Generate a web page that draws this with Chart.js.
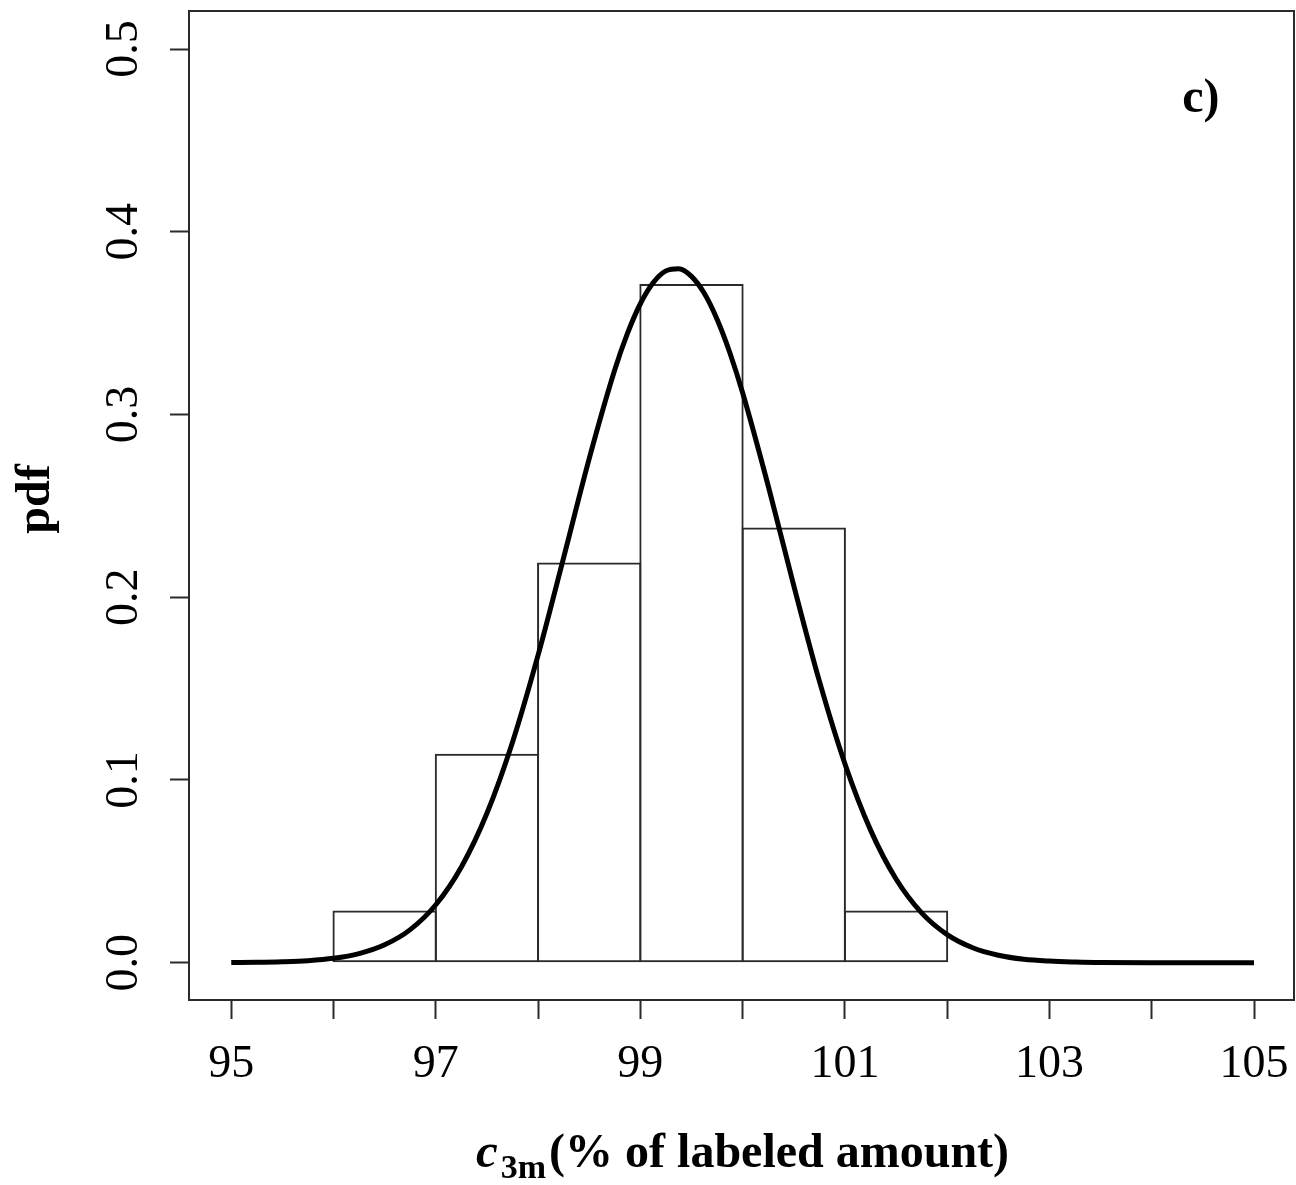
<!DOCTYPE html>
<html>
<head>
<meta charset="utf-8">
<script src="https://cdn.jsdelivr.net/npm/chart.js@4.4.1/dist/chart.umd.min.js"></script>
<style>
  html, body { margin: 0; padding: 0; background: #fff; }
  #wrap { width: 1296px; height: 1185px; }
</style>
</head>
<body>
<div id="wrap"><canvas id="chart" width="1296" height="1185"></canvas></div>
<script>
  // histogram, bins of width 1 (density)
  let binCenters = [96.5, 97.5, 98.5, 99.5, 100.5, 101.5];
  let binDensity = [0.0286, 0.1143, 0.2190, 0.3714, 0.2381, 0.0286];

  // fitted pdf curve
  let curveX = [95, 95.25, 95.5, 95.75, 96, 96.25, 96.5, 96.75, 97, 97.25, 97.5, 97.75,
    98, 98.25, 98.5, 98.75, 98.875, 99, 99.125, 99.25, 99.375, 99.5, 99.625, 99.75, 99.875,
    100, 100.25, 100.5, 100.75, 101, 101.25, 101.5, 101.75, 102, 102.25, 102.5, 102.75,
    103, 103.25, 103.5, 104, 104.5, 105];
  let curveY = [0.0001, 0.0002, 0.0005, 0.0011, 0.0024, 0.0050, 0.0098, 0.0181, 0.0317, 0.0524, 0.0818, 0.1207,
    0.1683, 0.2217, 0.2759, 0.3245, 0.3445, 0.3606, 0.3721, 0.3786, 0.3798, 0.3756, 0.3663, 0.3521, 0.3338,
    0.3119, 0.2610, 0.2064, 0.1542, 0.1089, 0.0727, 0.0458, 0.0273, 0.0154, 0.0082, 0.0041, 0.0019,
    0.0009, 0.0004, 0.0001, 0, 0, 0];

  let xTickLabels = [95, 97, 99, 101, 103, 105];
  let yTickLabels = [0, 0.1, 0.2, 0.3, 0.4, 0.5];

  let yTitle = "pdf";
  let xTitleVar = "c";
  let xTitleSub = "3m";
  let xTitleRest = "(% of labeled amount)";
  let panelTag = "c)";

  let serif = "'Liberation Serif', 'Times New Roman', serif";
  let ink = "#2a2a2a";

  // keep the plot box where R put it
  function fixBox(s, size) {
    if (s.isHorizontal()) s.height = size;
    else s.width = size;
    s.paddingTop = 0;
    s.paddingBottom = 0;
    s.paddingLeft = 0;
    s.paddingRight = 0;
  }

  let framePlugin = {
    id: "frame",
    afterDraw(chart) {
      let ctx = chart.ctx;
      let a = chart.chartArea;
      let xs = chart.scales.x;
      let ys = chart.scales.y;
      ctx.save();
      ctx.strokeStyle = ink;
      ctx.lineWidth = 2;
      ctx.strokeRect(a.left, a.top, a.right - a.left, a.bottom - a.top);

      ctx.fillStyle = "#000";
      ctx.textBaseline = "alphabetic";

      // panel tag
      ctx.font = "bold 48px " + serif;
      ctx.textAlign = "center";
      ctx.fillText(panelTag, xs.getPixelForValue(104.48), ys.getPixelForValue(0.4655));

      // y title
      ctx.save();
      ctx.translate(48.5, 499);
      ctx.rotate(-Math.PI / 2);
      ctx.textAlign = "center";
      ctx.fillText(yTitle, 0, 0);
      ctx.restore();

      // x title: italic c, subscript 3m, then the rest
      ctx.textAlign = "left";
      let x = 476;
      ctx.font = "italic bold 49px " + serif;
      ctx.fillText(xTitleVar, x, 1167);
      x += ctx.measureText(xTitleVar).width + 3;
      ctx.font = "bold 34px " + serif;
      ctx.fillText(xTitleSub, x, 1178);
      x += ctx.measureText(xTitleSub).width + 3;
      ctx.font = "bold 48px " + serif;
      ctx.fillText(xTitleRest, x, 1167);
      ctx.restore();
    },
  };

  let chart = new Chart(document.getElementById("chart"), {
    type: "bar",
    data: {
      datasets: [
        {
          type: "line",
          data: curveX.map((v, i) => ({ x: v, y: curveY[i] })),
          borderColor: "#000",
          borderWidth: 5,
          pointRadius: 0,
          cubicInterpolationMode: "monotone",
          fill: false,
          order: 0,
        },
        {
          type: "bar",
          data: binCenters.map((v, i) => ({ x: v, y: binDensity[i] })),
          backgroundColor: "rgba(255,255,255,0)",
          borderColor: ink,
          borderWidth: 2,
          borderSkipped: false,
          inflateAmount: 0,
          barPercentage: 1.02,
          categoryPercentage: 1,
          order: 1,
        },
      ],
    },
    options: {
      responsive: false,
      animation: false,
      layout: { padding: { top: 11, right: 2, left: 0, bottom: 0 } },
      plugins: {
        legend: { display: false },
        tooltip: { enabled: false },
      },
      scales: {
        x: {
          type: "linear",
          offset: false,
          min: 94.587,
          max: 105.391,
          afterFit: s => fixBox(s, 185),
          border: { display: false },
          grid: {
            offset: false,
            drawOnChartArea: false,
            drawTicks: true,
            tickLength: 19,
            tickWidth: 2,
            tickColor: ink,
          },
          ticks: {
            stepSize: 1,
            includeBounds: false,
            autoSkip: false,
            maxRotation: 0,
            padding: 18,
            color: "#000",
            font: { family: serif, size: 46 },
            callback: v => (xTickLabels.includes(v) ? String(v) : ""),
          },
        },
        y: {
          min: -0.0204,
          max: 0.5208,
          afterFit: s => fixBox(s, 189),
          border: { display: false },
          grid: {
            drawOnChartArea: false,
            drawTicks: true,
            tickLength: 19,
            tickWidth: 2,
            tickColor: ink,
          },
          ticks: {
            stepSize: 0.1,
            includeBounds: false,
            minRotation: 90,
            maxRotation: 90,
            crossAlign: "center",
            padding: 16,
            color: "#000",
            font: { family: serif, size: 46 },
            callback: v => {
              let hit = yTickLabels.find(t => Math.abs(t - v) < 1e-6);
              return hit === undefined ? "" : hit.toFixed(1);
            },
          },
        },
      },
    },
    plugins: [framePlugin],
  });
</script>
</body>
</html>
